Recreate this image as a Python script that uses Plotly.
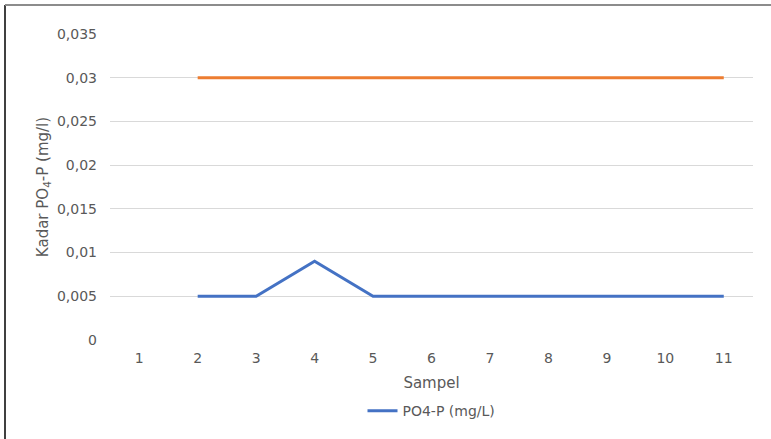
import plotly.graph_objects as go

# Sample numbers on the category axis
samples = ["1", "2", "3", "4", "5", "6", "7", "8", "9", "10", "11"]

# Measured phosphate (PO4-P) per sample, mg/L (sample 1 has no reading)
po4_p = [None, 0.005, 0.005, 0.009, 0.005, 0.005, 0.005, 0.005, 0.005, 0.005, 0.005]

# Quality standard threshold, mg/L
baku_mutu = [None, 0.03, 0.03, 0.03, 0.03, 0.03, 0.03, 0.03, 0.03, 0.03, 0.03]

y_ticks = [0, 0.005, 0.01, 0.015, 0.02, 0.025, 0.03, 0.035]
y_tick_text = ["0", "0,005", "0,01", "0,015", "0,02", "0,025", "0,03", "0,035"]

FONT = "DejaVu Sans, Verdana, sans-serif"
GREY_TEXT = "#595959"

fig = go.Figure()

fig.add_trace(go.Scatter(
    x=samples, y=po4_p, mode="lines", name="PO4-P (mg/L)",
    line=dict(color="#4472C4", width=3), connectgaps=False,
))
fig.add_trace(go.Scatter(
    x=samples, y=baku_mutu, mode="lines", name="Baku mutu",
    line=dict(color="#ED7D31", width=3), showlegend=False,
))

fig.update_layout(
    width=771, height=439,
    margin=dict(l=110, r=18, t=34, b=99),
    paper_bgcolor="white", plot_bgcolor="white",
    font=dict(family=FONT, size=14, color=GREY_TEXT),
    showlegend=True,
    legend=dict(
        orientation="h", x=0.5, xanchor="center", y=-0.18, yanchor="top",
        font=dict(family=FONT, size=14, color=GREY_TEXT),
    ),
    xaxis=dict(
        type="category", range=[-0.5, 10.5],
        showgrid=False, showline=False, ticks="",
        ticklabelstandoff=8,
        tickfont=dict(family=FONT, size=14, color=GREY_TEXT),
        title=dict(text="Sampel", standoff=12,
                   font=dict(family=FONT, size=15, color=GREY_TEXT)),
    ),
    yaxis=dict(
        range=[0, 0.035], tickvals=y_ticks, ticktext=y_tick_text,
        showgrid=True, gridcolor="#D9D9D9", gridwidth=1,
        zeroline=False, showline=False, ticks="",
        ticklabelstandoff=12,
        tickfont=dict(family=FONT, size=14, color=GREY_TEXT),
        title=dict(text="Kadar PO<sub>4</sub>-P (mg/l)", standoff=4,
                   font=dict(family=FONT, size=15, color=GREY_TEXT)),
    ),
)

# Chart frame: left and top edges
fig.add_shape(type="line", xref="paper", yref="paper",
              x0=-105 / 643, x1=-105 / 643, y0=-99 / 306, y1=(306 + 29) / 306,
              line=dict(color="#404040", width=2))
fig.add_shape(type="line", xref="paper", yref="paper",
              x0=-105 / 643, x1=(643 + 18) / 643, y0=(306 + 29) / 306, y1=(306 + 29) / 306,
              line=dict(color="#8C8C8C", width=2))

fig.write_html("out.html")
